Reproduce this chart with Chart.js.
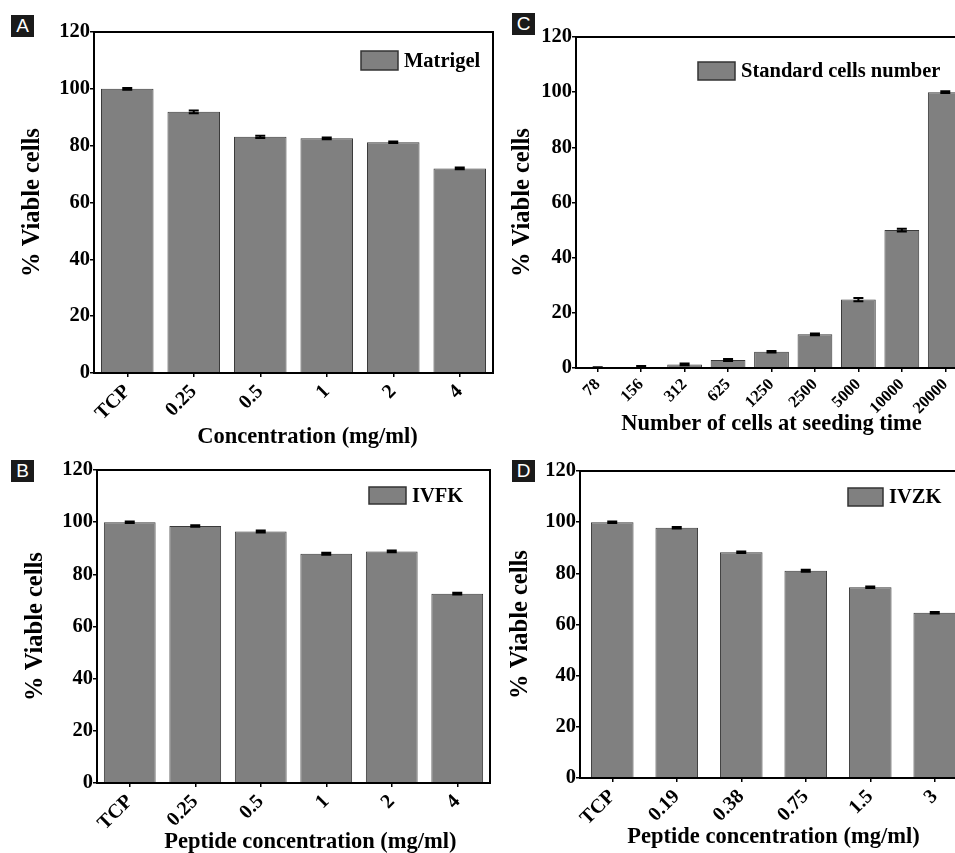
<!DOCTYPE html>
<html>
<head>
<meta charset="utf-8">
<script src="https://cdn.jsdelivr.net/npm/chart.js@4.4.0/dist/chart.umd.min.js"></script>
<style>
body { margin: 0; background: #fff; }
#page { position: relative; width: 955px; height: 853px; overflow: hidden; background: #fff; }
canvas { position: absolute; }
.tag { position: absolute; width: 23px; height: 22px; background: #1a1a1a; color: #fff;
       font: 19px "Liberation Sans", Arial, sans-serif; line-height: 22px; text-align: center; }
</style>
</head>
<body>
<div id="page">
  <canvas id="chartA" width="500" height="450" style="left:0;top:0"></canvas>
  <canvas id="chartC" width="480" height="450" style="left:490px;top:0"></canvas>
  <canvas id="chartB" width="500" height="403" style="left:0;top:450px"></canvas>
  <canvas id="chartD" width="480" height="403" style="left:490px;top:450px"></canvas>
  <div class="tag" style="left:11px;top:15px">A</div>
  <div class="tag" style="left:512px;top:13px">C</div>
  <div class="tag" style="left:11px;top:460px">B</div>
  <div class="tag" style="left:512px;top:460px">D</div>
</div>
<script>
// panel A - matrigel
var labelsA = ['TCP', '0.25', '0.5', '1', '2', '4'];
var valuesA = [100, 91.9, 83.1, 82.6, 81.2, 72.0];
var errorsA = [0.3, 0.5, 0.4, 0.3, 0.3, 0.3];

// panel B - IVFK
var labelsB = ['TCP', '0.25', '0.5', '1', '2', '4'];
var valuesB = [100, 98.5, 96.4, 87.9, 88.8, 72.6];
var errorsB = [0.3, 0.3, 0.4, 0.4, 0.3, 0.3];

// panel C - standard cells
var labelsC = ['78', '156', '312', '625', '1250', '2500', '5000', '10000', '20000'];
var valuesC = [0.2, 0.4, 1.3, 2.9, 5.9, 12.2, 24.8, 50.0, 100];
var errorsC = [0.1, 0.3, 0.3, 0.4, 0.3, 0.3, 0.6, 0.5, 0.3];

// panel D - IVZK
var labelsD = ['TCP', '0.19', '0.38', '0.75', '1.5', '3'];
var valuesD = [100, 97.8, 88.2, 81.0, 74.6, 64.6];
var errorsD = [0.3, 0.3, 0.3, 0.4, 0.3, 0.3];

var yTicks = [0, 20, 40, 60, 80, 100, 120];

var serif = '"Liberation Serif", "Times New Roman", serif';

// error bars, box frame and the inside legend
var panelPlugin = {
  id: 'panel',
  afterDatasetsDraw: function(chart, args, opts) {
    var ctx = chart.ctx;
    var area = chart.chartArea;
    var ds = chart.data.datasets[0];
    var meta = chart.getDatasetMeta(0);
    var y = chart.scales.y;
    ctx.save();
    ctx.strokeStyle = '#000';
    ctx.lineWidth = 2;
    meta.data.forEach(function(bar, i) {
      var v = ds.data[i], e = ds.errors[i];
      var top = y.getPixelForValue(v + e);
      var bot = y.getPixelForValue(v - e);
      ctx.beginPath();
      ctx.moveTo(bar.x, top); ctx.lineTo(bar.x, bot);
      ctx.moveTo(bar.x - 5, top); ctx.lineTo(bar.x + 5, top);
      ctx.moveTo(bar.x - 5, bot); ctx.lineTo(bar.x + 5, bot);
      ctx.stroke();
    });
    ctx.lineWidth = 2;
    ctx.strokeRect(area.left, area.top, area.right - area.left, area.bottom - area.top);

    var lx = area.left + opts.x, ly = area.top + opts.y;
    ctx.fillStyle = ds.backgroundColor;
    ctx.fillRect(lx, ly, opts.w, opts.h);
    ctx.lineWidth = 1.5;
    ctx.strokeStyle = '#333';
    ctx.strokeRect(lx, ly, opts.w, opts.h);
    ctx.fillStyle = '#000';
    ctx.font = 'bold 20.5px ' + serif;
    ctx.textBaseline = 'middle';
    ctx.textAlign = 'left';
    ctx.fillText(ds.label, lx + opts.w + 6, ly + opts.h / 2 + 1);
    ctx.restore();
  }
};

function makeChart(id, labels, values, errors, name, xTitle, g) {
  var ctx = document.getElementById(id).getContext('2d');
  return new Chart(ctx, {
    type: 'bar',
    data: {
      labels: labels,
      datasets: [{
        label: name,
        data: values,
        errors: errors,
        backgroundColor: '#808080',
        borderColor: '#3a3a3a',
        borderWidth: 1,
        categoryPercentage: 1,
        barPercentage: g.bar
      }]
    },
    options: {
      responsive: false,
      animation: false,
      devicePixelRatio: 1,
      layout: { padding: { top: g.pt, right: g.pr, left: 0, bottom: 0 } },
      plugins: {
        legend: { display: false },
        tooltip: { enabled: false },
        panel: g.legend
      },
      scales: {
        x: {
          grid: { display: true, drawOnChartArea: false, offset: false, tickLength: 4, color: '#000', lineWidth: 1.5 },
          border: { display: true, color: '#000', width: 2 },
          ticks: { color: '#000', autoSkip: false, minRotation: 45, maxRotation: 45, padding: 3,
                   font: { family: serif, weight: 'bold', size: g.xts } },
          // leading spaces nudge the title right, as in the original figure
          title: { display: true, text: ' '.repeat(g.shift) + xTitle, color: '#000', padding: { top: 0, bottom: g.xtp },
                   font: { family: serif, weight: 'bold', size: 22.5, lineHeight: 1 } },
          afterFit: function(s) { s.height = g.xh; }
        },
        y: {
          min: 0,
          max: 120,
          afterBuildTicks: function(s) { s.ticks = yTicks.map(function(v) { return { value: v }; }); },
          grid: { display: true, drawOnChartArea: false, tickLength: 4, color: '#000', lineWidth: 1.5 },
          border: { display: true, color: '#000', width: 2 },
          ticks: { color: '#000', padding: 0, font: { family: serif, weight: 'bold', size: 20.5 } },
          title: { display: true, text: '% Viable cells', color: '#000', padding: { top: g.ytp, bottom: 0 },
                   font: { family: serif, weight: 'bold', size: 24.5, lineHeight: 1 } },
          afterFit: function(s) { s.width = g.yw; }
        }
      }
    },
    plugins: [panelPlugin]
  });
}

makeChart('chartA', labelsA, valuesA, errorsA, 'Matrigel', 'Concentration (mg/ml)',
  { yw: 94, xh: 77, pt: 32, pr: 7, bar: 0.79, xts: 20, xtp: 2, ytp: 20, shift: 5,
    legend: { x: 267, y: 19, w: 37, h: 19 } });

makeChart('chartB', labelsB, valuesB, errorsB, 'IVFK', 'Peptide concentration (mg/ml)',
  { yw: 97, xh: 70, pt: 20, pr: 10, bar: 0.79, xts: 20, xtp: 0, ytp: 23, shift: 6,
    legend: { x: 272, y: 17, w: 37, h: 17 } });

makeChart('chartC', labelsC, valuesC, errorsC, 'Standard cells number', 'Number of cells at seeding time',
  { yw: 86, xh: 82, pt: 37, pr: 3, bar: 0.8, xts: 16.5, xtp: 15, ytp: 20, shift: 0,
    legend: { x: 122, y: 25, w: 37, h: 18 } });

makeChart('chartD', labelsD, valuesD, errorsD, 'IVZK', 'Peptide concentration (mg/ml)',
  { yw: 90, xh: 75, pt: 21, pr: 3, bar: 0.66, xts: 20, xtp: 5, ytp: 18, shift: 0,
    legend: { x: 268, y: 17, w: 35, h: 18 } });
</script>
</body>
</html>
